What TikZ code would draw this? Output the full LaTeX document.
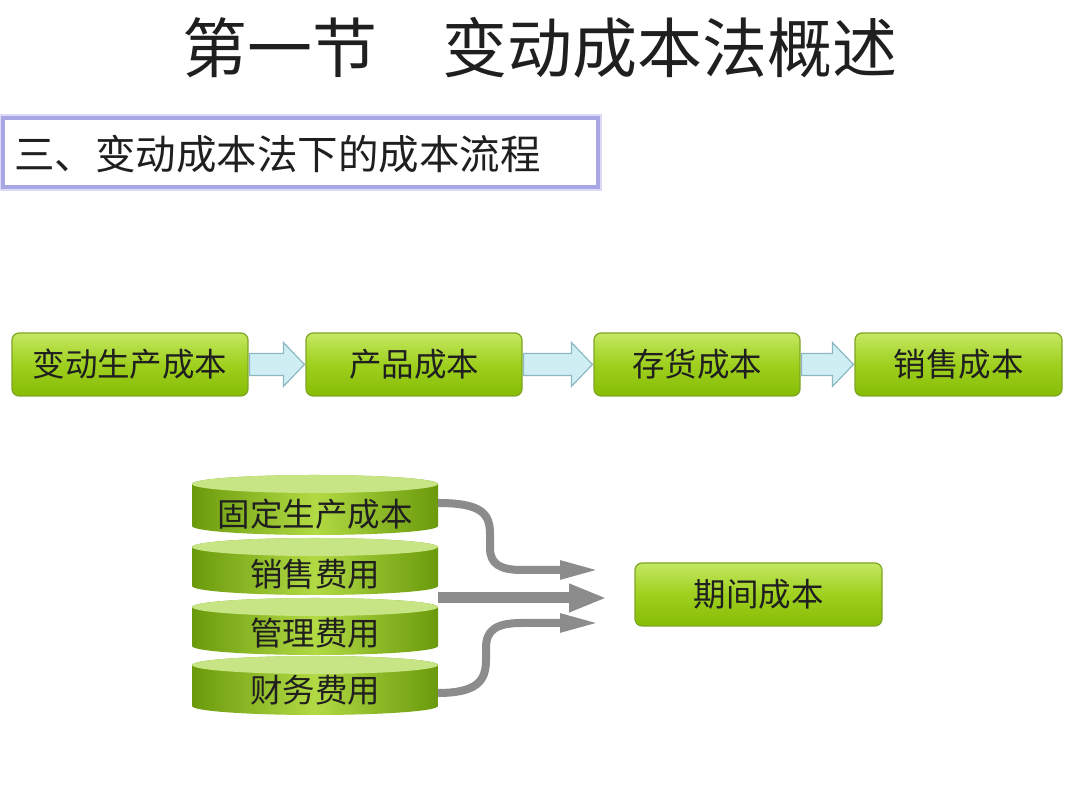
\documentclass[tikz,border=0pt]{standalone}
\usepackage{fontspec}
\setmainfont{Noto Sans CJK SC}
\usetikzlibrary{calc,arrows.meta}
\definecolor{gtop}{HTML}{C4E862}
\definecolor{gmid}{HTML}{9FD01E}
\definecolor{gbot}{HTML}{86BC06}
\definecolor{gline}{HTML}{7FA524}
\definecolor{cdark}{HTML}{6A9A0C}
\definecolor{clight}{HTML}{B2DA44}
\definecolor{ctop}{HTML}{C8E585}
\definecolor{afill}{HTML}{CFEEF4}
\definecolor{aline}{HTML}{8DB8C2}
\definecolor{garrow}{HTML}{8C8C8C}
\definecolor{lav}{HTML}{A9A6E6}
\definecolor{lavlight}{HTML}{DCDAF6}
\tikzset{
  greenbox/.style={rounded corners=7pt, draw=gline, line width=1.2pt,
    top color=gtop, bottom color=gbot, middle color=gmid,
    minimum height=63pt, inner sep=0pt, font=\fontsize{32.5}{32.5}\selectfont, text=black!88},
  discbody/.style={left color=cdark, right color=cdark, middle color=clight},
  disctop/.style={fill=ctop},
  disctext/.style={font=\fontsize{32.5}{32.5}\selectfont, text=black!88},
  blockarrow/.style={fill=afill, draw=aline, line width=1.2pt, line join=miter},
  grayarrow/.style={draw=garrow, line width=8pt, -{Triangle[length=40pt,width=17pt]}},
}
\newcommand{\mydisc}[2]{%
  \shade[discbody] (192,#1) -- (192,#2) arc[start angle=180,end angle=360,x radius=123pt,y radius=9pt]
     -- (438,#1) arc[start angle=0,end angle=180,x radius=123pt,y radius=9pt] -- cycle;
  \fill[disctop] (315,#1) ellipse[x radius=123pt,y radius=9pt];
}
\begin{document}
\begin{tikzpicture}[x=1pt,y=1pt]
\useasboundingbox (0,0) rectangle (1080,810);
\fill[white] (0,0) rectangle (1080,810);
% title
\node[font=\fontsize{65}{65}\selectfont, text=black!88] (title) at (540,762) {第一节　变动成本法概述};
% subtitle box
\draw[lavlight, line width=8pt] (3,623) rectangle (598,692);
\draw[lav, line width=3.5pt, fill=white] (3,623) rectangle (598,692);
\node[anchor=west, font=\fontsize{40.5}{40.5}\selectfont, text=black!88, inner sep=0pt] (sub) at (14,656) {三、变动成本法下的成本流程};
% top row
\node[greenbox, minimum width=236pt] (b1) at (130,445.5) {变动生产成本};
\node[greenbox, minimum width=216pt] (b2) at (414,445.5) {产品成本};
\node[greenbox, minimum width=206pt] (b3) at (697,445.5) {存货成本};
\node[greenbox, minimum width=207pt] (b4) at (958.5,445.5) {销售成本};
\foreach \a/\b in {b1/b2,b2/b3,b3/b4}{
  \draw[blockarrow] let \p1=(\a.east), \p2=(\b.west) in
    (\x1+1,\y1+11) -- (\x2-22,\y1+11) -- (\x2-22,\y1+22) -- (\x2-1,\y1) -- (\x2-22,\y1-22)
    -- (\x2-22,\y1-11) -- (\x1+1,\y1-11) -- cycle;
}
% discs
\mydisc{326}{284}
\mydisc{263}{224}
\mydisc{203}{164}
\mydisc{145}{104}
\node[disctext] (d1) at (315,296) {固定生产成本};
\node[disctext] (d2) at (315,236) {销售费用};
\node[disctext] (d3) at (315,177) {管理费用};
\node[disctext] (d4) at (315,120) {财务费用};
% period cost
\node[greenbox, minimum width=247pt] (pc) at (758.5,215.5) {期间成本};
% gray arrows
\coordinate (s1) at (438,307);
\coordinate (s2) at (438,212);
\coordinate (s3) at (438,117);
\coordinate (e1) at (600,240);
\coordinate (e2) at (607,212);
\coordinate (e3) at (600,187);
\draw[grayarrow] (s1) .. controls (482,307) and (490,296) .. (490,276) -- (490,262)
   .. controls (490,246) and (500,240) .. (522,240) -- (e1);
\draw[grayarrow, line width=11pt, -{Triangle[length=38pt,width=26pt]}] (s2) -- (e2);
\draw[grayarrow] (s3) .. controls (478,117) and (486,130) .. (486,150) -- (486,162)
   .. controls (486,180) and (496,187) .. (522,187) -- (e3);
\end{tikzpicture}
\end{document}
